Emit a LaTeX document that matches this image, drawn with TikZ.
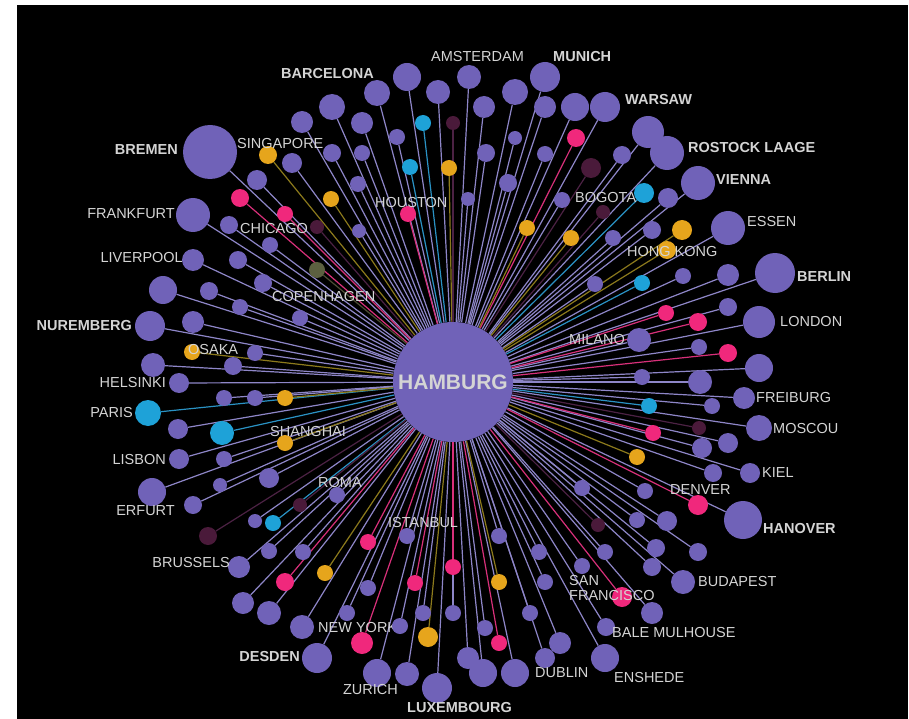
\documentclass[tikz,border=0pt]{standalone}
\usepackage{fontspec}
\setmainfont{Liberation Sans}
\usetikzlibrary{positioning}
\definecolor{cpurple}{HTML}{7062B8}
\definecolor{cpink}{HTML}{F0287C}
\definecolor{cblue}{HTML}{1EA2D8}
\definecolor{corange}{HTML}{E6A51C}
\definecolor{cmaroon}{HTML}{4A1A3A}
\definecolor{colive}{HTML}{5C6040}
\definecolor{ctext}{HTML}{D4D4D4}
\definecolor{epurple}{HTML}{8E86C8}
\definecolor{epink}{HTML}{D8307A}
\definecolor{eblue}{HTML}{2A92C4}
\definecolor{eorange}{HTML}{8C7A1C}
\definecolor{emaroon}{HTML}{4C2244}
\definecolor{eolive}{HTML}{4C4C34}
\pgfdeclarelayer{back}
\pgfdeclarelayer{edges}
\pgfsetlayers{back,edges,main}
\tikzset{
  dot/.style={circle, inner sep=0pt, fill=#1},
  edge/.style={draw=#1, line width=1.2pt},
  hub/.style={circle, inner sep=0pt, minimum size=120pt, fill=cpurple,
    text=ctext, font=\fontsize{21}{24}\selectfont\bfseries},
  lbl/.style={inner sep=0pt, text=ctext, font=\fontsize{14.5}{16}\selectfont},
  lblb/.style={lbl, font=\fontsize{14.5}{16}\selectfont\bfseries}
}
\begin{document}
\begin{tikzpicture}[x=1pt, y=-1pt]
  \useasboundingbox (0,0) rectangle (909,719);
  \begin{pgfonlayer}{back}
    \fill[white] (0,0) rectangle (909,719);
    \fill[black] (17,5) rectangle (908,719);
  \end{pgfonlayer}

  \node[hub] (hamburg) at (453,382) {HAMBURG};
  % this one sits under its neighbour dot
  \node[lbl, anchor=west] (lny) at (318,628) {NEW YORK};

  % destinations, one list per colour
  \foreach \x/\y/\r [count=\i] in {
      332/107/13, 377/93/13, 407/77/14, 438/92/12, 469/77/12, 484/107/11,
      515/92/13, 545/77/15, 545/107/11, 575/107/14, 605/107/15, 362/123/11,
      397/137/8, 515/138/7, 332/153/9, 362/153/8, 486/153/9, 545/154/8,
      358/184/8, 508/183/9, 562/200/8, 468/199/7, 359/231/7, 302/122/11,
      292/163/10, 257/180/10, 229/225/9, 270/245/8, 238/260/9, 263/283/9,
      240/307/8, 300/318/8, 210/152/27, 193/215/17, 193/260/11, 163/290/14,
      209/291/9, 150/326/15, 193/322/11, 255/353/8, 153/365/12, 233/366/9,
      179/383/10, 224/398/8, 255/398/8, 178/429/10, 224/459/8, 179/459/10,
      269/478/10, 152/492/14, 193/505/9, 220/485/7, 255/521/7, 269/551/8,
      239/567/11, 243/603/11, 269/613/12, 337/495/8, 303/552/8,
      407/536/8, 499/536/8, 582/488/8, 539/552/8, 605/552/8, 582/566/8,
      368/588/8, 545/582/8, 347/613/8, 423/613/8, 453/613/8, 530/613/8,
      400/626/8, 302/627/12, 485/628/8, 560/643/11, 317/658/15, 468/658/11,
      545/658/10, 377/673/14, 407/674/12, 483/673/14, 515/673/14, 437/688/15,
      605/658/14, 606/627/9, 652/613/11, 683/582/12, 652/567/9, 698/552/9,
      656/548/9, 667/521/10, 637/520/8, 645/491/8, 743/520/19, 750/473/10,
      713/473/9, 702/448/10, 728/443/10, 759/428/13, 712/406/8, 744/398/11,
      700/382/12, 642/377/8, 759/368/14, 699/347/8, 639/340/12, 759/322/16,
      728/307/9, 775/273/20, 728/275/11, 683/276/8, 595/284/8, 613/238/8,
      652/230/9, 728/228/17, 698/183/17, 668/198/10, 667/153/17, 648/132/16,
      622/155/9} {
    \node[dot=cpurple, minimum size={2*\r*1pt}] (pu\i) at (\x,\y) {};
    \begin{pgfonlayer}{edges}
      \draw[edge=epurple] (hamburg) -- (pu\i);
    \end{pgfonlayer}
  }
  \foreach \x/\y/\r [count=\i] in {
      240/198/9, 285/214/8, 408/214/8, 576/138/9, 666/313/8, 698/322/9,
      728/353/9, 653/433/8, 698/505/10, 622/597/10, 368/542/8, 453/567/8,
      415/583/8, 285/582/9, 362/643/11, 499/643/8} {
    \node[dot=cpink, minimum size={2*\r*1pt}] (pk\i) at (\x,\y) {};
    \begin{pgfonlayer}{edges}
      \draw[edge=epink] (hamburg) -- (pk\i);
    \end{pgfonlayer}
  }
  \foreach \x/\y/\r [count=\i] in {
      423/123/8, 410/167/8, 644/193/10, 642/283/8, 649/406/8, 148/413/13,
      222/433/12, 273/523/8} {
    \node[dot=cblue, minimum size={2*\r*1pt}] (bl\i) at (\x,\y) {};
    \begin{pgfonlayer}{edges}
      \draw[edge=eblue] (hamburg) -- (bl\i);
    \end{pgfonlayer}
  }
  \foreach \x/\y/\r [count=\i] in {
      268/155/9, 331/199/8, 449/168/8, 527/228/8, 571/238/8, 682/230/10,
      667/250/9, 192/352/8, 285/398/8, 285/443/8, 637/457/8, 325/573/8,
      499/582/8, 428/637/10} {
    \node[dot=corange, minimum size={2*\r*1pt}] (or\i) at (\x,\y) {};
    \begin{pgfonlayer}{edges}
      \draw[edge=eorange] (hamburg) -- (or\i);
    \end{pgfonlayer}
  }
  \foreach \x/\y/\r [count=\i] in {
      453/123/7, 591/168/10, 603/212/7, 317/227/7, 699/428/7, 598/525/7,
      208/536/9, 300/505/7} {
    \node[dot=cmaroon, minimum size={2*\r*1pt}] (ma\i) at (\x,\y) {};
    \begin{pgfonlayer}{edges}
      \draw[edge=emaroon] (hamburg) -- (ma\i);
    \end{pgfonlayer}
  }
  \node[dot=colive, minimum size=16pt] (ol1) at (317,270) {};
  \begin{pgfonlayer}{edges}
    \draw[edge=eolive] (hamburg) -- (ol1);
  \end{pgfonlayer}

  % city names
  \foreach \x/\y/\a/\t [count=\i] in {
      431/57/west/AMSTERDAM, 747/222/west/ESSEN, 780/322/west/LONDON,
      756/398/west/FREIBURG, 773/429/west/MOSCOU, 762/473/west/KIEL,
      670/490/west/DENVER, 698/582/west/BUDAPEST, 612/633/west/BALE MULHOUSE,
      614/678/west/ENSHEDE, 535/673/west/DUBLIN, 398/690/east/ZURICH,
      388/523/west/ISTANBUL, 318/483/west/ROMA,
      230/563/east/BRUSSELS, 175/511/east/ERFURT, 166/460/east/LISBON,
      270/432/west/SHANGHAI, 133/413/east/PARIS, 166/383/east/HELSINKI,
      188/350/west/OSAKA, 272/297/west/COPENHAGEN, 183/258/east/LIVERPOOL,
      240/229/west/CHICAGO, 175/214/east/FRANKFURT, 375/203/west/HOUSTON,
      237/144/west/SINGAPORE, 575/198/west/BOGOTA, 627/252/west/HONG KONG,
      625/340/east/MILANO}
    \node[lbl, anchor=\a] (lb\i) at (\x,\y) {\t};
  \foreach \x/\y/\a/\t [count=\i] in {
      374/74/east/BARCELONA, 553/57/west/MUNICH, 625/100/west/WARSAW,
      688/148/west/ROSTOCK LAAGE, 716/180/west/VIENNA, 797/277/west/BERLIN,
      763/529/west/HANOVER, 407/708/west/LUXEMBOURG, 300/657/east/DESDEN,
      132/326/east/NUREMBERG, 178/150/east/BREMEN}
    \node[lblb, anchor=\a] (lc\i) at (\x,\y) {\t};
  \node[lbl, anchor=north west, align=left] (lsf) at (569,575)
    {SAN\\[-1pt]FRANCISCO};
\end{tikzpicture}
\end{document}
